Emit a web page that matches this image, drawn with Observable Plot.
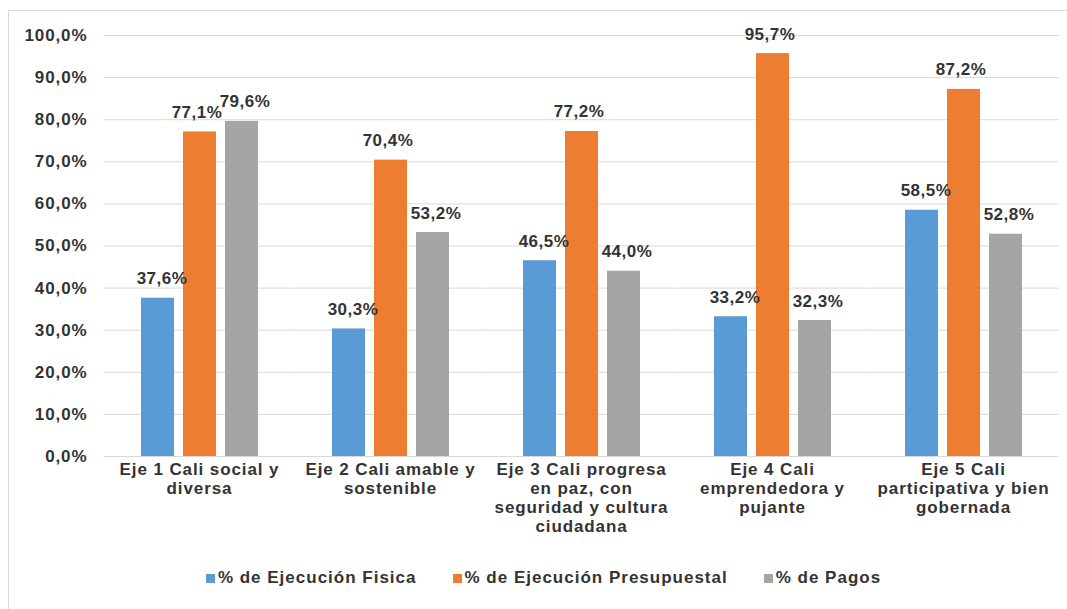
<!DOCTYPE html>
<html>
<head>
<meta charset="utf-8">
<script src="https://cdn.jsdelivr.net/npm/d3@7"></script>
<script src="https://cdn.jsdelivr.net/npm/@observablehq/plot@0.6"></script>
<style>
  html, body { margin: 0; padding: 0; background: #fff; }
  body { width: 1067px; height: 609px; position: relative; overflow: hidden;
         font-family: "Liberation Sans", Arial, sans-serif; }
  #frame { position: absolute; left: 8px; top: 10px; width: 1080px; height: 610px;
           border: 1px solid #d9d9d9; box-sizing: border-box; }
  #chart { position: absolute; left: 0; top: 0; }
  #chart svg text { letter-spacing: 0.9px; }
  #chart svg g.vlabel text { letter-spacing: 0.5px; }
  #legend { position: absolute; left: 10px; top: 568px; width: 1067px; display: flex;
            justify-content: center; gap: 36px; font-weight: bold; font-size: 17px;
            letter-spacing: 1px; color: #333; }
  #legend .item { display: flex; align-items: center; gap: 3px; }
  #legend .sw { width: 9px; height: 9px; display: inline-block; }
</style>
</head>
<body>
<div id="frame"></div>
<div id="chart"></div>
<div id="legend"></div>
<script>
const ejes = ["Eje 1", "Eje 2", "Eje 3", "Eje 4", "Eje 5"];
const ejeLabels = [
  "Eje 1 Cali social y\ndiversa",
  "Eje 2 Cali amable y\nsostenible",
  "Eje 3 Cali progresa\nen paz, con\nseguridad y cultura\nciudadana",
  "Eje 4 Cali\nemprendedora y\npujante",
  "Eje 5 Cali\nparticipativa y bien\ngobernada"
];
const series = ["% de Ejecución Fisica", "% de Ejecución Presupuestal", "% de Pagos"];
const colors = ["#5b9bd5", "#ed7d31", "#a5a5a5"];
const fisica = [37.6, 30.3, 46.5, 33.2, 58.5];
const presupuestal = [77.1, 70.4, 77.2, 95.7, 87.2];
const pagos = [79.6, 53.2, 44.0, 32.3, 52.8];
const yTicks = [0, 10, 20, 30, 40, 50, 60, 70, 80, 90, 100];

const values = [fisica, presupuestal, pagos];
const data = [];
ejes.forEach((e, i) => series.forEach((s, j) => data.push({eje: e, serie: s, value: values[j][i]})));

const fmt1 = v => v.toFixed(1).replace(".", ",") + "%";
const labelOf = new Map(ejes.map((e, i) => [e, ejeLabels[i]]));
const labelDx = [4, -3, 3];

const chart = Plot.plot({
  width: 1067,
  height: 560,
  marginLeft: 103,
  marginRight: 8,
  marginTop: 35,
  marginBottom: 104,
  style: {fontFamily: "'Liberation Sans', Arial, sans-serif", fontWeight: "bold", color: "#333", background: "transparent"},
  fx: {domain: ejes, paddingInner: 0.38, paddingOuter: 0.19, label: null},
  x: {domain: series, padding: 0.22, paddingOuter: 0, axis: null},
  y: {domain: [0, 100], axis: null},
  color: {domain: series, range: colors},
  marks: [
    Plot.ruleY(yTicks, {stroke: "#d9d9d9", strokeWidth: 1, insetLeft: -36.5, insetRight: -36.5}),
    Plot.axisY({ticks: yTicks, tickFormat: fmt1, tickSize: 0, tickPadding: 53, fontSize: 17, fontWeight: "bold", label: null}),
    Plot.axisFx({anchor: "bottom", tickSize: 0, tickPadding: 5, fontSize: 17, fontWeight: "bold", lineHeight: 1.12, label: null, tickFormat: d => labelOf.get(d)}),
    Plot.barY(data, {fx: "eje", x: "serie", y: "value", fill: "serie"}),
    ...series.map((s, j) => Plot.text(data.filter(d => d.serie === s), {
      fx: "eje", x: "serie", y: "value", text: d => fmt1(d.value),
      lineAnchor: "bottom", dy: -14, dx: labelDx[j], fontSize: 17, fontWeight: "bold", fill: "#333",
      className: "vlabel"
    }))
  ]
});
document.getElementById("chart").appendChild(chart);

const legend = document.getElementById("legend");
series.forEach((s, j) => {
  const item = document.createElement("div");
  item.className = "item";
  const sw = document.createElement("span");
  sw.className = "sw";
  sw.style.background = colors[j];
  const t = document.createElement("span");
  t.textContent = s;
  item.appendChild(sw);
  item.appendChild(t);
  legend.appendChild(item);
});
</script>
</body>
</html>
